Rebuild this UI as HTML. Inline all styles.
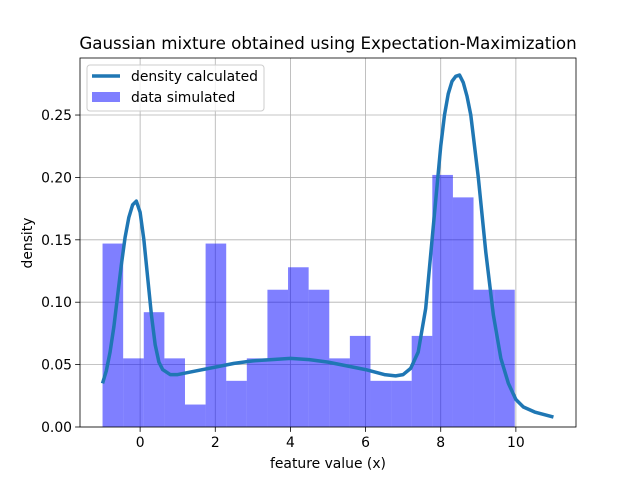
<!DOCTYPE html>
<html><head><meta charset="utf-8"><style>body{margin:0;background:#fff}svg{display:block;font-family:"DejaVu Sans","Liberation Sans",sans-serif}</style></head>
<body>
<svg id="chart" width="640" height="480"></svg>
<script>
const binEdgesStart = -1.0;
const binWidth = 0.5485;
const barHeights = [0.147,0.055,0.092,0.055,0.018,0.147,0.037,0.055,0.110,0.128,0.110,0.055,0.073,0.037,0.037,0.073,0.202,0.184,0.110,0.110];
const curveX = [-1,-0.9,-0.8,-0.7,-0.6,-0.5,-0.4,-0.3,-0.2,-0.1,0,0.1,0.2,0.3,0.4,0.5,0.6,0.8,1,1.5,2,2.5,3,3.5,4,4.5,5,5.5,6,6.5,6.8,7,7.2,7.4,7.6,7.8,8,8.1,8.2,8.3,8.4,8.5,8.6,8.7,8.8,9,9.2,9.4,9.6,9.8,10,10.2,10.5,11];
const curveY = [0.035,0.045,0.06,0.08,0.105,0.13,0.152,0.168,0.178,0.181,0.172,0.15,0.12,0.09,0.066,0.052,0.046,0.042,0.042,0.045,0.048,0.051,0.053,0.054,0.055,0.054,0.052,0.049,0.046,0.042,0.041,0.042,0.047,0.06,0.095,0.16,0.225,0.25,0.267,0.277,0.281,0.282,0.276,0.265,0.25,0.2,0.14,0.09,0.055,0.035,0.022,0.016,0.012,0.008];
const xTicks = [0,2,4,6,8,10];
const yTicks = [0.00,0.05,0.10,0.15,0.20,0.25];

const L=80,R=576,T=58,B=427;
const xMin=-1.6,xMax=11.6,yMin=0,yMax=0.2957;
const sx=v=>L+(v-xMin)/(xMax-xMin)*(R-L);
const sy=v=>B-(v-yMin)/(yMax-yMin)*(B-T);
const svg=document.getElementById('chart');
const NS='http://www.w3.org/2000/svg';
function mk(tag,attrs,parent){const e=document.createElementNS(NS,tag);for(const k in attrs)e.setAttribute(k,attrs[k]);(parent||svg).appendChild(e);return e;}

xTicks.forEach(t=>{const l=mk('line',{x1:sx(t),x2:sx(t),y1:T,y2:B,stroke:'#b0b0b0','stroke-width':0.8});

});
yTicks.forEach(t=>{const l=mk('line',{x1:L,x2:R,y1:sy(t),y2:sy(t),stroke:'#b0b0b0','stroke-width':0.8});

});

barHeights.forEach((h,i)=>{const x0=binEdgesStart+i*binWidth;
const r=mk('rect',{x:sx(x0),y:sy(h),width:sx(x0+binWidth)-sx(x0),height:sy(0)-sy(h),fill:'#0000ff','fill-opacity':0.5});

});

const p=mk('polyline',{points:curveX.map((x,i)=>sx(x)+','+sy(curveY[i])).join(' '),fill:'none',stroke:'#1f77b4','stroke-width':3.5,'stroke-linejoin':'round'});



const f=mk('rect',{x:L,y:T,width:R-L,height:B-T,fill:'none',stroke:'#000','stroke-width':0.8});



xTicks.forEach(t=>{mk('line',{x1:sx(t),x2:sx(t),y1:B,y2:B+4.9,stroke:'#000','stroke-width':0.8});
const tx=mk('text',{x:sx(t),y:B+20,'font-size':13.9,'text-anchor':'middle'});tx.textContent=t;

});
yTicks.forEach(t=>{mk('line',{x1:L-4.9,x2:L,y1:sy(t),y2:sy(t),stroke:'#000','stroke-width':0.8});
const tx=mk('text',{x:L-8,y:sy(t)+5,'font-size':13.9,'text-anchor':'end'});tx.textContent=t.toFixed(2);

});
</script>
<div style="position:absolute;left:0;top:0;width:640px;height:480px;pointer-events:none">
<svg width="640" height="480" style="font-family:'DejaVu Sans','Liberation Sans',sans-serif">
<text x="328" y="49" font-size="16.7" text-anchor="middle">Gaussian mixture obtained using Expectation-Maximization</text>
<text x="328" y="468" font-size="13.9" text-anchor="middle">feature value (x)</text>
<text x="32" y="243" font-size="13.9" text-anchor="middle" transform="rotate(-90 32 243)">density</text>
<g>
<rect x="87" y="65" width="177" height="46" rx="3" fill="#fff" fill-opacity="0.8" stroke="#ccc"/>
<line x1="92" x2="120" y1="76" y2="76" stroke="#1f77b4" stroke-width="3.5"/>
<text x="131" y="81" font-size="13.9">density calculated</text>
<rect x="92" y="92" width="28" height="10" fill="#0000ff" fill-opacity="0.5"/>
<text x="131" y="102" font-size="13.9">data simulated</text>
</g>
</svg></div>
</body></html>
